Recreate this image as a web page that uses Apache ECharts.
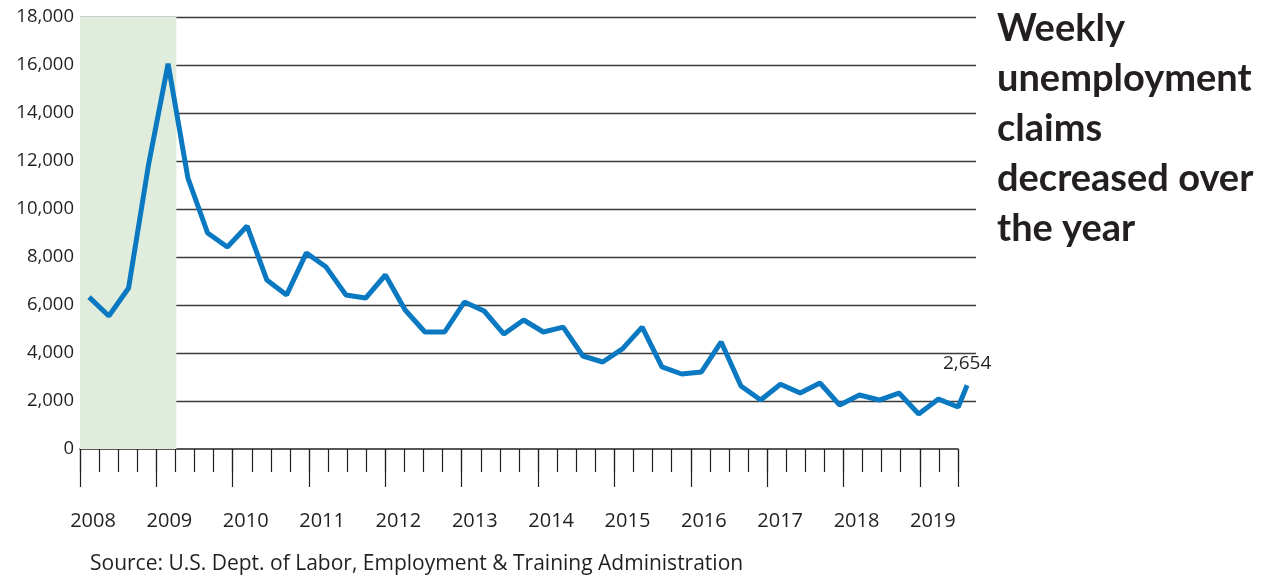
<!DOCTYPE html>
<html lang="en">
<head>
    <meta charset="UTF-8">
    <title>Weekly unemployment claims</title>
    <script src="https://cdn.jsdelivr.net/npm/echarts@6/dist/echarts.min.js"></script>
    <style>
        html, body { margin: 0; padding: 0; background: #fff; }
        #chart { width: 1265px; height: 576px; }
    </style>
</head>
<body>
<div id="chart"></div>
<script type="text/javascript">

    // quarters shown on the axis (46 slots, labelled once a year)
    var years = ['2008', '2009', '2010', '2011', '2012', '2013', '2014', '2015', '2016', '2017', '2018', '2019'];
    var quarters = [];
    for (var y = 0; y < years.length; y++) {
        for (var q = 1; q <= 4; q++) {
            if (quarters.length < 46) quarters.push(years[y] + ' Q' + q);
        }
    }

    // position of each reading, in quarters from the first one
    var period = [0, 1, 2, 3, 4, 5, 6, 7, 8, 9, 10, 11, 12, 13, 14, 15, 16, 17, 18, 19, 20, 21, 22,
        23, 24, 25, 26, 27, 28, 29, 30, 31, 32, 33, 34, 35, 36, 37, 38, 39, 40, 41, 42, 43, 44, 44.45];

    // weekly claims
    var claims = [6330, 5540, 6710, 11800, 16050, 11300, 9000, 8420, 9290, 7040, 6420, 8170, 7580, 6420,
        6290, 7250, 5790, 4875, 4875, 6125, 5750, 4790, 5375, 4875, 5080, 3875, 3625, 4170, 5080, 3420,
        3125, 3210, 4460, 2625, 2040, 2700, 2330, 2750, 1830, 2250, 2040, 2330, 1460, 2080, 1750, 2654];

    // recession shading, in the same quarter units
    var recession = [-0.46, 4.42];

    var textColor = '#231f20';
    var lineData = [];
    for (var i = 0; i < claims.length; i++) {
        if (i === claims.length - 1) {
            lineData.push({
                value: [period[i], claims[i]],
                label: {
                    show: true,
                    position: 'top',
                    distance: 12,
                    color: textColor,
                    fontSize: 19,
                    fontFamily: 'Open Sans',
                    formatter: function (p) { return p.value[1].toLocaleString('en-US'); }
                }
            });
        } else {
            lineData.push([period[i], claims[i]]);
        }
    }

    var myChart = echarts.init(document.getElementById('chart'));
    var option = {
        animation: false,
        title: [{
            text: 'Weekly\nunemployment\nclaims\ndecreased over\nthe year',
            left: 992,
            top: -1,
            textStyle: {
                fontFamily: 'Lato',
                fontWeight: 'bold',
                fontSize: 38,
                lineHeight: 50,
                color: textColor
            }
        }, {
            text: 'Source: U.S. Dept. of Labor, Employment & Training Administration',
            left: 85,
            top: 546,
            textStyle: {
                fontFamily: 'Open Sans',
                fontWeight: 'normal',
                fontSize: 21,
                lineHeight: 26,
                color: textColor
            }
        }],
        grid: [
            {left: 80, right: 289, top: 17, bottom: 127},
            {left: 80, right: 307, top: 17, bottom: 127}
        ],
        xAxis: [{
            type: 'value',
            gridIndex: 0,
            min: -0.46,
            max: 44.9,
            show: false
        }, {
            type: 'category',
            gridIndex: 1,
            position: 'bottom',
            data: quarters,
            boundaryGap: true,
            axisLine: {show: true, lineStyle: {color: textColor, width: 1.5}},
            axisTick: {show: true, interval: 3, length: 38, lineStyle: {color: textColor, width: 1.2}},
            axisLabel: {
                show: true,
                interval: 3,
                margin: 62,
                padding: [0, 0, 0, 7],
                color: textColor,
                fontSize: 20,
                fontFamily: 'Open Sans',
                formatter: function (v) { return v.slice(0, 4); }
            },
            splitLine: {show: false}
        }, {
            type: 'category',
            gridIndex: 1,
            position: 'bottom',
            offset: 0,
            data: quarters,
            boundaryGap: true,
            axisLine: {show: false},
            axisTick: {show: true, interval: 0, length: 23, lineStyle: {color: textColor, width: 1.2}},
            axisLabel: {show: false},
            splitLine: {show: false}
        }],
        yAxis: [{
            type: 'value',
            gridIndex: 0,
            min: 0,
            max: 18000,
            interval: 2000,
            axisLine: {show: false},
            axisTick: {show: false},
            axisLabel: {
                margin: 6,
                color: textColor,
                fontSize: 18.5,
                fontFamily: 'Open Sans',
                formatter: function (v) { return v.toLocaleString('en-US'); }
            },
            splitLine: {showMinLine: false, lineStyle: {color: '#3a3a3a', width: 1.3}}
        }, {
            type: 'value',
            gridIndex: 1,
            min: 0,
            max: 18000,
            show: false
        }],
        series: [{
            type: 'line',
            xAxisIndex: 0,
            yAxisIndex: 0,
            data: lineData,
            showSymbol: true,
            symbol: 'circle',
            symbolSize: 0,
            lineStyle: {color: '#0a79c1', width: 5},
            itemStyle: {color: '#0a79c1'},
            markArea: {
                silent: true,
                itemStyle: {color: '#e0eddc'},
                data: [[{xAxis: recession[0]}, {xAxis: recession[1]}]]
            },
            z: 3
        }]
    };

    myChart.setOption(option);
</script>
</body>
</html>
